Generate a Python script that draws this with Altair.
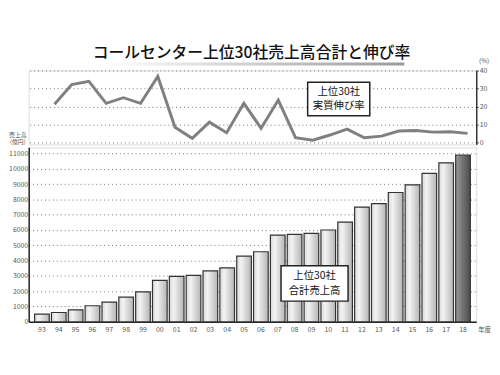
import altair as alt
import pandas as pd

years = ["93","94","95","96","97","98","99","00","01","02","03","04","05",
         "06","07","08","09","10","11","12","13","14","15","16","17","18"]
sales = [500, 610, 780, 1050, 1290, 1610, 1960, 2710, 2970, 3030, 3330, 3530, 4290,
         4580, 5660, 5720, 5780, 6000, 6520, 7500, 7720, 8450, 8950, 9700, 10390, 10900]
rate_years = years[1:]
rates = [21.3, 32.2, 34.0, 21.8, 24.9, 21.8, 36.7, 8.5, 2.4, 11.3, 5.5, 21.8,
         8.0, 23.6, 2.7, 1.3, 4.2, 7.5, 2.7, 3.6, 6.4, 6.7, 5.8, 6.0, 5.1]

title_text = "コールセンター上位30社売上高合計と伸び率"
line_label = ["上位30社", "実質伸び率"]
bar_label = ["上位30社", "合計売上高"]
FONT = "Noto Sans CJK JP"

W = 454
H1 = 75
H2 = 177

bars_df = pd.DataFrame({"year": years, "sales": sales})
line_df = pd.DataFrame({"year": rate_years, "rate": rates})

xscale = alt.Scale(domain=years, paddingInner=0.13, paddingOuter=0.35)
grid_kw = dict(gridDash=[1, 3], gridColor="#777", gridWidth=1)

# ---------- top: growth rate line ----------
line = alt.Chart(line_df).mark_line(color="#808080", strokeWidth=3).encode(
    x=alt.X("year:N", scale=xscale, axis=None, bandPosition=0.5, sort=years),
    y=alt.Y("rate:Q", scale=alt.Scale(domain=[-1, 40], nice=False),
            axis=alt.Axis(orient="right", values=[0, 10, 20, 30, 40], title=None,
                          format="d",
                          labelFont=FONT, labelFontSize=7, labelColor="#555",
                          labelPadding=1, tickSize=2, tickColor="#333",
                          domainColor="#333", domainWidth=1.5, **grid_kw)),
)

one = pd.DataFrame({"t": [""]})
title_mark = alt.Chart(pd.DataFrame({"t": [title_text]})).mark_text(
    font=FONT, fontSize=16, fontWeight=500, color="#111", align="center", baseline="middle"
).encode(x=alt.value(226), y=alt.value(-18), text="t:N")

underline = alt.Chart(one).mark_rect(
    color=alt.Gradient(gradient="linear",
                       stops=[alt.GradientStop(color="#ffffff", offset=0),
                              alt.GradientStop(color="#9a9a9a", offset=1)],
                       x1=0, x2=1, y1=0, y2=0)
).encode(x=alt.value(77), x2=alt.value(381), y=alt.value(-8), y2=alt.value(-5))

pct = alt.Chart(pd.DataFrame({"t": ["(%)"]})).mark_text(
    font=FONT, fontSize=6.5, color="#555", align="center", baseline="middle"
).encode(x=alt.value(W + 8), y=alt.value(-10), text="t:N")

box1 = alt.Chart(one).mark_rect(fill="white", stroke="#222", strokeWidth=1.5).encode(
    x=alt.value(283), x2=alt.value(346), y=alt.value(12), y2=alt.value(46))
box1_t1 = alt.Chart(pd.DataFrame({"t": [line_label[0]]})).mark_text(
    font=FONT, fontSize=10.5, color="#111", align="center", baseline="middle"
).encode(x=alt.value(314.5), y=alt.value(21.5), text="t:N")
box1_t2 = alt.Chart(pd.DataFrame({"t": [line_label[1]]})).mark_text(
    font=FONT, fontSize=10.5, color="#111", align="center", baseline="middle"
).encode(x=alt.value(314.5), y=alt.value(36.5), text="t:N")

top = alt.layer(line, underline, title_mark, pct, box1, box1_t1, box1_t2).properties(
    width=W, height=H1)

# ---------- bottom: sales bars ----------
light = alt.Gradient(gradient="linear",
                     stops=[alt.GradientStop(color="#d8d8d8", offset=0),
                            alt.GradientStop(color="#f3f3f3", offset=0.3),
                            alt.GradientStop(color="#b5b5b5", offset=1)],
                     x1=0, x2=1, y1=0, y2=0)
dark = alt.Gradient(gradient="linear",
                    stops=[alt.GradientStop(color="#9a9a9a", offset=0),
                           alt.GradientStop(color="#4a4a4a", offset=1)],
                    x1=0, x2=1, y1=0, y2=0)

xenc = alt.X("year:N", scale=xscale, sort=years,
             axis=alt.Axis(title=None, labelAngle=0, ticks=False, labelFont=FONT,
                           labelFontSize=7, labelColor="#555", labelPadding=4,
                           domainColor="#222", domainWidth=1.5))
yenc = alt.Y("sales:Q", scale=alt.Scale(domain=[0, 11400], nice=False),
             axis=alt.Axis(values=list(range(0, 11001, 1000)), title=None, ticks=False,
                           format="d",
                           labelFont=FONT, labelFontSize=7, labelColor="#555",
                           labelPadding=1, domainColor="#222", domainWidth=1.5,
                           **grid_kw))

bars_light = alt.Chart(bars_df).transform_filter(alt.datum.year != "18").mark_bar(
    color=light, stroke="#333", strokeWidth=1.2).encode(x=xenc, y=yenc)
bars_dark = alt.Chart(bars_df).transform_filter(alt.datum.year == "18").mark_bar(
    color=dark, stroke="#333", strokeWidth=1.2).encode(x=xenc, y=yenc)

unit = alt.Chart(pd.DataFrame({"t": ["売上高\n(億円)"]})).mark_text(
    font=FONT, fontSize=6, color="#555", align="center", baseline="middle",
    lineBreak="\n", lineHeight=8
).encode(x=alt.value(-11), y=alt.value(-13), text="t:N")

nendo = alt.Chart(pd.DataFrame({"t": ["年度"]})).mark_text(
    font=FONT, fontSize=6.5, color="#555", align="left", baseline="middle"
).encode(x=alt.value(W + 2), y=alt.value(H2 + 8), text="t:N")

box2 = alt.Chart(one).mark_rect(fill="white", stroke="#222", strokeWidth=1.5).encode(
    x=alt.value(256), x2=alt.value(324), y=alt.value(120), y2=alt.value(156))
box2_t1 = alt.Chart(pd.DataFrame({"t": [bar_label[0]]})).mark_text(
    font=FONT, fontSize=10.5, color="#111", align="center", baseline="middle"
).encode(x=alt.value(290), y=alt.value(130.5), text="t:N")
box2_t2 = alt.Chart(pd.DataFrame({"t": [bar_label[1]]})).mark_text(
    font=FONT, fontSize=10.5, color="#111", align="center", baseline="middle"
).encode(x=alt.value(290), y=alt.value(145.5), text="t:N")

bottom = alt.layer(bars_light, bars_dark, unit, nendo, box2, box2_t1, box2_t2).properties(
    width=W, height=H2)

chart = alt.vconcat(top, bottom, spacing=3, bounds="flush").properties(
    padding={"top": 34, "left": 0, "right": 0, "bottom": 0}
).configure_view(stroke=None).configure(background="white")

chart.save("out.html", embed_options={"renderer": "svg", "actions": False})
